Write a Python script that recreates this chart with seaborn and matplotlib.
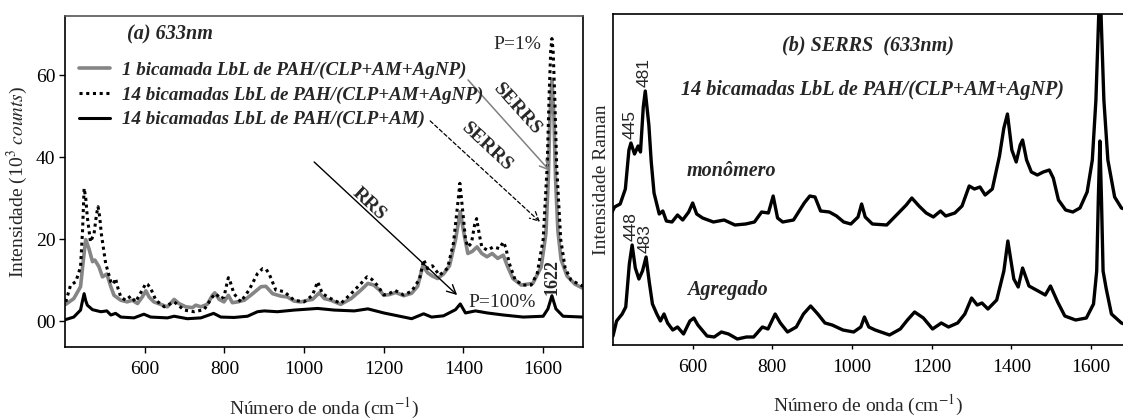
import numpy as np
import pandas as pd
import matplotlib
matplotlib.use("Agg")
import matplotlib.pyplot as plt
import seaborn as sns

# ---------------- (a) 633 nm : three LbL films ----------------
wn_1bic = [402, 422, 439, 446, 452, 460, 469, 475, 485, 494, 505, 515, 523, 540, 556, 569,
           582, 594, 603, 611, 623, 640, 657, 674, 686, 703, 720, 728, 741, 757, 770, 776,
           787, 799, 810, 820, 833, 850, 871, 892, 904, 921, 942, 958, 975, 992, 1009, 1021,
           1038, 1051, 1067, 1092, 1118, 1143, 1160, 1175, 1190, 1200, 1215, 1230, 1250,
           1270, 1285, 1298, 1310, 1322, 1335, 1350, 1365, 1380, 1392, 1400, 1411, 1422,
           1434, 1446, 1459, 1472, 1486, 1500, 1510, 1524, 1545, 1574, 1595, 1607, 1613,
           1617, 1622, 1627, 1631, 1637, 1645, 1660, 1680, 1700]
int_1bic = [4.1, 5.5, 8.4, 14.9, 19.9, 17.7, 14.5, 14.9, 13.3, 10.8, 11.5, 8.4, 6.3, 5.1, 4.7,
            5.1, 4.3, 5.9, 7.4, 5.9, 4.7, 4.1, 3.5, 5.3, 4.3, 3.5, 3.3, 3.9, 3.5, 4.1, 6.3,
            6.9, 5.3, 4.7, 6.3, 4.5, 4.7, 5.1, 6.7, 8.4, 8.5, 6.7, 6.1, 5.9, 4.9, 4.7, 5.1,
            5.3, 6.9, 5.5, 5.1, 4.1, 5.5, 7.6, 9.2, 8.8, 7.5, 6.3, 6.5, 7.0, 6.2, 6.8, 8.5,
            13.5, 11.8, 11.0, 10.4, 11.5, 13.5, 19.8, 26.7, 22.0, 16.5, 17.0, 18.1, 16.5,
            15.7, 16.5, 15.3, 16.1, 13.5, 10.4, 8.8, 9.2, 13.2, 21.4, 35.0, 50.0, 59.0, 50.0,
            35.0, 22.0, 15.0, 11.0, 9.0, 8.0]

wn_14bic = [402, 414, 427, 439, 444, 448, 452, 456, 464, 473, 479, 483, 487, 491, 502, 515,
            521, 527, 533, 540, 552, 565, 577, 594, 603, 607, 615, 628, 649, 674, 699, 724,
            749, 770, 778, 791, 799, 806, 810, 815, 824, 841, 862, 883, 896, 905, 912, 929,
            950, 975, 1000, 1021, 1034, 1046, 1067, 1092, 1118, 1143, 1158, 1170, 1185, 1200,
            1215, 1228, 1250, 1270, 1290, 1300, 1310, 1322, 1340, 1360, 1375, 1385, 1391,
            1398, 1405, 1411, 1420, 1428, 1433, 1440, 1446, 1460, 1475, 1490, 1500, 1506,
            1515, 1530, 1550, 1570, 1585, 1600, 1610, 1615, 1619, 1622, 1625, 1629, 1634,
            1644, 1655, 1670, 1700]
int_14bic = [4.7, 8.8, 9.6, 13.2, 22.0, 32.4, 30.0, 25.4, 19.3, 21.4, 26.0, 27.9, 25.5, 21.4,
             14.1, 9.6, 9.0, 10.4, 8.0, 5.9, 5.1, 6.1, 4.7, 7.6, 9.2, 9.0, 8.0, 5.1, 3.5, 4.7,
             2.7, 2.3, 2.8, 5.9, 6.7, 5.5, 5.9, 9.0, 10.6, 9.5, 6.7, 4.7, 7.6, 11.6, 12.8,
             12.6, 11.6, 7.6, 7.2, 5.1, 4.7, 6.3, 9.6, 6.7, 5.5, 4.3, 6.7, 9.2, 10.8, 10.2,
             8.6, 6.4, 6.8, 7.5, 6.4, 7.3, 10.3, 15.0, 12.8, 13.5, 11.2, 12.9, 19.1, 28.0,
             33.6, 27.0, 20.0, 18.1, 19.0, 23.5, 25.0, 21.0, 18.1, 17.3, 18.1, 17.7, 19.3,
             18.0, 14.1, 10.0, 8.8, 8.8, 11.6, 19.9, 37.6, 55.0, 66.0, 68.9, 66.0, 55.0, 37.6,
             20.0, 13.0, 10.0, 8.5]

wn_rrs = [402, 422, 439, 444, 448, 452, 456, 469, 490, 505, 515, 527, 540, 573, 598, 615,
          657, 674, 707, 741, 773, 791, 824, 858, 883, 900, 933, 975, 1034, 1076, 1126, 1160,
          1200, 1250, 1270, 1300, 1320, 1350, 1380, 1392, 1405, 1430, 1460, 1500, 1550, 1600,
          1612, 1622, 1632, 1650, 1700]
int_rrs = [0.4, 1.0, 2.7, 5.0, 6.7, 5.0, 3.9, 2.8, 2.3, 2.5, 1.5, 1.9, 1.0, 0.8, 1.7, 1.0,
           0.8, 1.2, 0.6, 0.8, 1.9, 1.0, 0.9, 1.2, 2.3, 2.5, 2.3, 2.7, 3.1, 2.7, 2.5, 3.0,
           2.0, 1.0, 0.6, 1.8, 1.0, 1.3, 2.8, 4.2, 2.0, 2.5, 2.0, 1.5, 1.0, 1.2, 3.0, 6.2,
           3.0, 1.2, 1.0]

labels_a = ["1 bicamada LbL de PAH/(CLP+AM+AgNP)",
            "14 bicamadas LbL de PAH/(CLP+AM+AgNP)",
            "14 bicamadas LbL de PAH/(CLP+AM)"]

# ---------------- (b) SERRS 633 nm : monomer vs aggregate ----------------
wn_mono = [395, 404, 418, 431, 440, 445, 454, 463, 469, 476, 481, 490, 496, 503, 516, 525,
           534, 548, 562, 575, 590, 600, 610, 625, 652, 679, 706, 733, 755, 773, 790, 802,
           813, 826, 853, 880, 894, 907, 921, 943, 961, 979, 997, 1015, 1024, 1033, 1051,
           1087, 1114, 1136, 1150, 1168, 1186, 1204, 1222, 1235, 1258, 1276, 1294, 1307,
           1321, 1334, 1352, 1370, 1381, 1390, 1401, 1412, 1422, 1428, 1438, 1450, 1465,
           1480, 1495, 1505, 1518, 1536, 1554, 1572, 1590, 1603, 1612, 1617, 1622, 1627,
           1632, 1642, 1659, 1676, 1690]
int_mono = [131, 138, 141, 156, 195, 202, 191, 199, 193, 238, 254, 220, 183, 152, 131, 134,
            124, 123, 130, 125, 133, 142, 131, 127, 123, 125, 120, 121, 123, 133, 132, 149,
            127, 123, 125, 142, 149, 148, 134, 133, 129, 123, 121, 128, 141, 128, 121, 120,
            131, 140, 147, 139, 132, 128, 134, 129, 132, 139, 159, 156, 158, 150, 156, 189,
            217, 231, 195, 183, 200, 205, 185, 173, 170, 173, 175, 167, 145, 135, 133, 137,
            153, 185, 245, 305, 365, 305, 245, 185, 148, 137, 135]

wn_agreg = [400, 409, 423, 432, 441, 448, 456, 465, 474, 483, 491, 499, 510, 519, 528, 537,
            550, 562, 577, 593, 603, 613, 636, 654, 672, 690, 712, 735, 753, 775, 789, 807,
            820, 838, 860, 878, 896, 914, 932, 950, 977, 1004, 1022, 1031, 1042, 1058, 1094,
            1121, 1139, 1157, 1179, 1202, 1224, 1242, 1265, 1283, 1300, 1314, 1326, 1341,
            1363, 1381, 1391, 1406, 1417, 1428, 1444, 1467, 1485, 1498, 1516, 1534, 1561,
            1588, 1606, 1614, 1618, 1622, 1626, 1630, 1638, 1651, 1676, 1690]
int_agreg = [9, 24, 31, 38, 81, 100, 77, 66, 74, 88, 63, 41, 31, 24, 31, 22, 15, 18, 11, 24,
             27, 20, 9, 8, 13, 11, 6, 8, 8, 18, 16, 31, 22, 13, 18, 31, 39, 31, 22, 20, 15,
             13, 18, 28, 18, 15, 10, 16, 25, 33, 27, 16, 22, 18, 22, 31, 47, 40, 42, 36, 45,
             74, 104, 66, 58, 77, 59, 54, 50, 59, 43, 29, 25, 27, 41, 74, 145, 204, 145, 74,
             56, 31, 22, 20]

peak_labels_mono = [(445, "445"), (481, "481")]
peak_labels_agreg = [(448, "448"), (483, "483")]

# ---------------- styling ----------------
sns.set_theme(style="white")
plt.rcParams["font.family"] = ["Liberation Serif", "DejaVu Serif"]
plt.rcParams["mathtext.fontset"] = "stix"
plt.rcParams["axes.linewidth"] = 1.2

fig = plt.figure(figsize=(11.23, 4.19), dpi=100)
W, H = 1123, 419
axA = fig.add_axes([65 / W, 1 - 347 / H, (583 - 65) / W, (347 - 16) / H])
axB = fig.add_axes([613 / W, 1 - 345 / H, (1123 - 613) / W, (345 - 14) / H])

bi = dict(fontweight="bold", fontstyle="italic")

df_a = pd.concat([
    pd.DataFrame({"wn": wn_1bic, "I": int_1bic, "amostra": labels_a[0]}),
    pd.DataFrame({"wn": wn_14bic, "I": int_14bic, "amostra": labels_a[1]}),
    pd.DataFrame({"wn": wn_rrs, "I": int_rrs, "amostra": labels_a[2]}),
])

styles_a = {labels_a[0]: dict(color="#858585", lw=2.6, ls="-"),
            labels_a[1]: dict(color="black", lw=2.2, ls=(0, (1, 1.2))),
            labels_a[2]: dict(color="black", lw=2.2, ls="-")}
for lab in labels_a:
    sub = df_a[df_a["amostra"] == lab]
    st = styles_a[lab]
    sns.lineplot(data=sub, x="wn", y="I", ax=axA, color=st["color"], linewidth=st["lw"],
                 linestyle=st["ls"], label=lab, estimator=None, sort=False)

axA.set_xlim(400, 1700)
axA.set_ylim(-6.3, 74.4)
axA.set_xticks([600, 800, 1000, 1200, 1400, 1600])
axA.set_yticks([0, 20, 40, 60])
axA.set_yticklabels(["00", "20", "40", "60"])
axA.tick_params(axis="x", which="major", direction="out", length=4, width=1,
                labelsize=14, pad=6, bottom=True, colors="black")
axA.tick_params(axis="y", which="major", direction="out", length=4, width=1,
                labelsize=14, pad=3, left=True, colors="black")
axA.set_xlabel("Número de onda (cm$^{-1}$)", fontsize=14, labelpad=13)
axA.set_ylabel("Intensidade (10$^3$ $\\it{counts}$)", fontsize=14, labelpad=4)
for side in ["left", "bottom", "right"]:
    axA.spines[side].set_color("black")
axA.spines["top"].set_color("#555555")

leg = axA.legend(loc="upper left", bbox_to_anchor=(0.027, 0.862), frameon=False,
                 borderpad=0, borderaxespad=0, handlelength=1.65, handletextpad=0.6,
                 labelspacing=0.38, prop=dict(family="Liberation Serif", weight="bold",
                                              style="italic", size=13.7))

axA.text(0.203, 0.945, "(a) 633nm", transform=axA.transAxes, ha="center", va="center",
         fontsize=14.5, **bi)
axA.text(0.873, 0.915, "P=1%", transform=axA.transAxes, ha="center", va="center", fontsize=14)
axA.text(0.844, 0.133, "P=100%", transform=axA.transAxes, ha="center", va="center", fontsize=14)
axA.text(0.940, 0.211, "1622", transform=axA.transAxes, ha="center", va="center",
         rotation=90, fontsize=13, fontweight="bold")

arrows = [((0.778, 0.807), (0.936, 0.532), dict(color="#808080", lw=1.1, ls="-")),
          ((0.705, 0.683), (0.917, 0.378), dict(color="black", lw=0.9, ls=(0, (3, 2)))),
          ((0.481, 0.559), (0.757, 0.157), dict(color="black", lw=1.0, ls="-"))]
for start, end, st in arrows:
    axA.annotate("", xy=end, xytext=start, xycoords="axes fraction",
                 textcoords="axes fraction",
                 arrowprops=dict(arrowstyle="->", color=st["color"], lw=st["lw"],
                                 linestyle=st["ls"], mutation_scale=16, shrinkA=0, shrinkB=0))
axA.text(0.873, 0.719, "SERRS", transform=axA.transAxes, ha="center", va="center",
         rotation=-48, fontsize=14, fontweight="bold")
axA.text(0.815, 0.604, "SERRS", transform=axA.transAxes, ha="center", va="center",
         rotation=-43, fontsize=14, fontweight="bold")
axA.text(0.587, 0.432, "RRS", transform=axA.transAxes, ha="center", va="center",
         rotation=-43, fontsize=14, fontweight="bold")

# ---------------- panel (b) ----------------
df_b = pd.concat([
    pd.DataFrame({"wn": wn_mono, "I": int_mono, "forma": "monômero"}),
    pd.DataFrame({"wn": wn_agreg, "I": int_agreg, "forma": "Agregado"}),
])
for forma in ["monômero", "Agregado"]:
    sub = df_b[df_b["forma"] == forma]
    sns.lineplot(data=sub, x="wn", y="I", ax=axB, color="black", linewidth=2.4,
                 estimator=None, sort=False)

axB.set_xlim(400, 1680)
axB.set_ylim(0, 331)
axB.set_xticks([600, 800, 1000, 1200, 1400, 1600])
axB.set_yticks([])
axB.tick_params(axis="x", direction="out", length=3, width=1, labelsize=14, pad=7,
                bottom=True, colors="black")
axB.set_xlabel("Número de onda (cm$^{-1}$)", fontsize=14, labelpad=12)
axB.set_ylabel("Intensidade Raman", fontsize=14, labelpad=2)
axB.spines["right"].set_visible(False)
for side in ["left", "bottom", "top"]:
    axB.spines[side].set_color("black")

axB.text(0.5, 0.906, "(b) SERRS  (633nm)", transform=axB.transAxes, ha="center",
         va="center", fontsize=14.5, **bi)
axB.text(0.508, 0.770, "14 bicamadas LbL de PAH/(CLP+AM+AgNP)", transform=axB.transAxes,
         ha="center", va="center", fontsize=14.5, **bi)
axB.text(0.233, 0.526, "monômero", transform=axB.transAxes, ha="center", va="center",
         fontsize=14.5, **bi)
axB.text(0.224, 0.166, "Agregado", transform=axB.transAxes, ha="center", va="center",
         fontsize=14.5, **bi)

for wn_list, int_list, labs in [(wn_mono, int_mono, peak_labels_mono),
                                (wn_agreg, int_agreg, peak_labels_agreg)]:
    for pos, txt in labs:
        yv = int_list[wn_list.index(pos)]
        axB.text(pos - 3, yv + 4, txt, rotation=90, ha="center", va="bottom", fontsize=12.5,
                 family="Liberation Sans")

fig.savefig("out.png", dpi=100)
